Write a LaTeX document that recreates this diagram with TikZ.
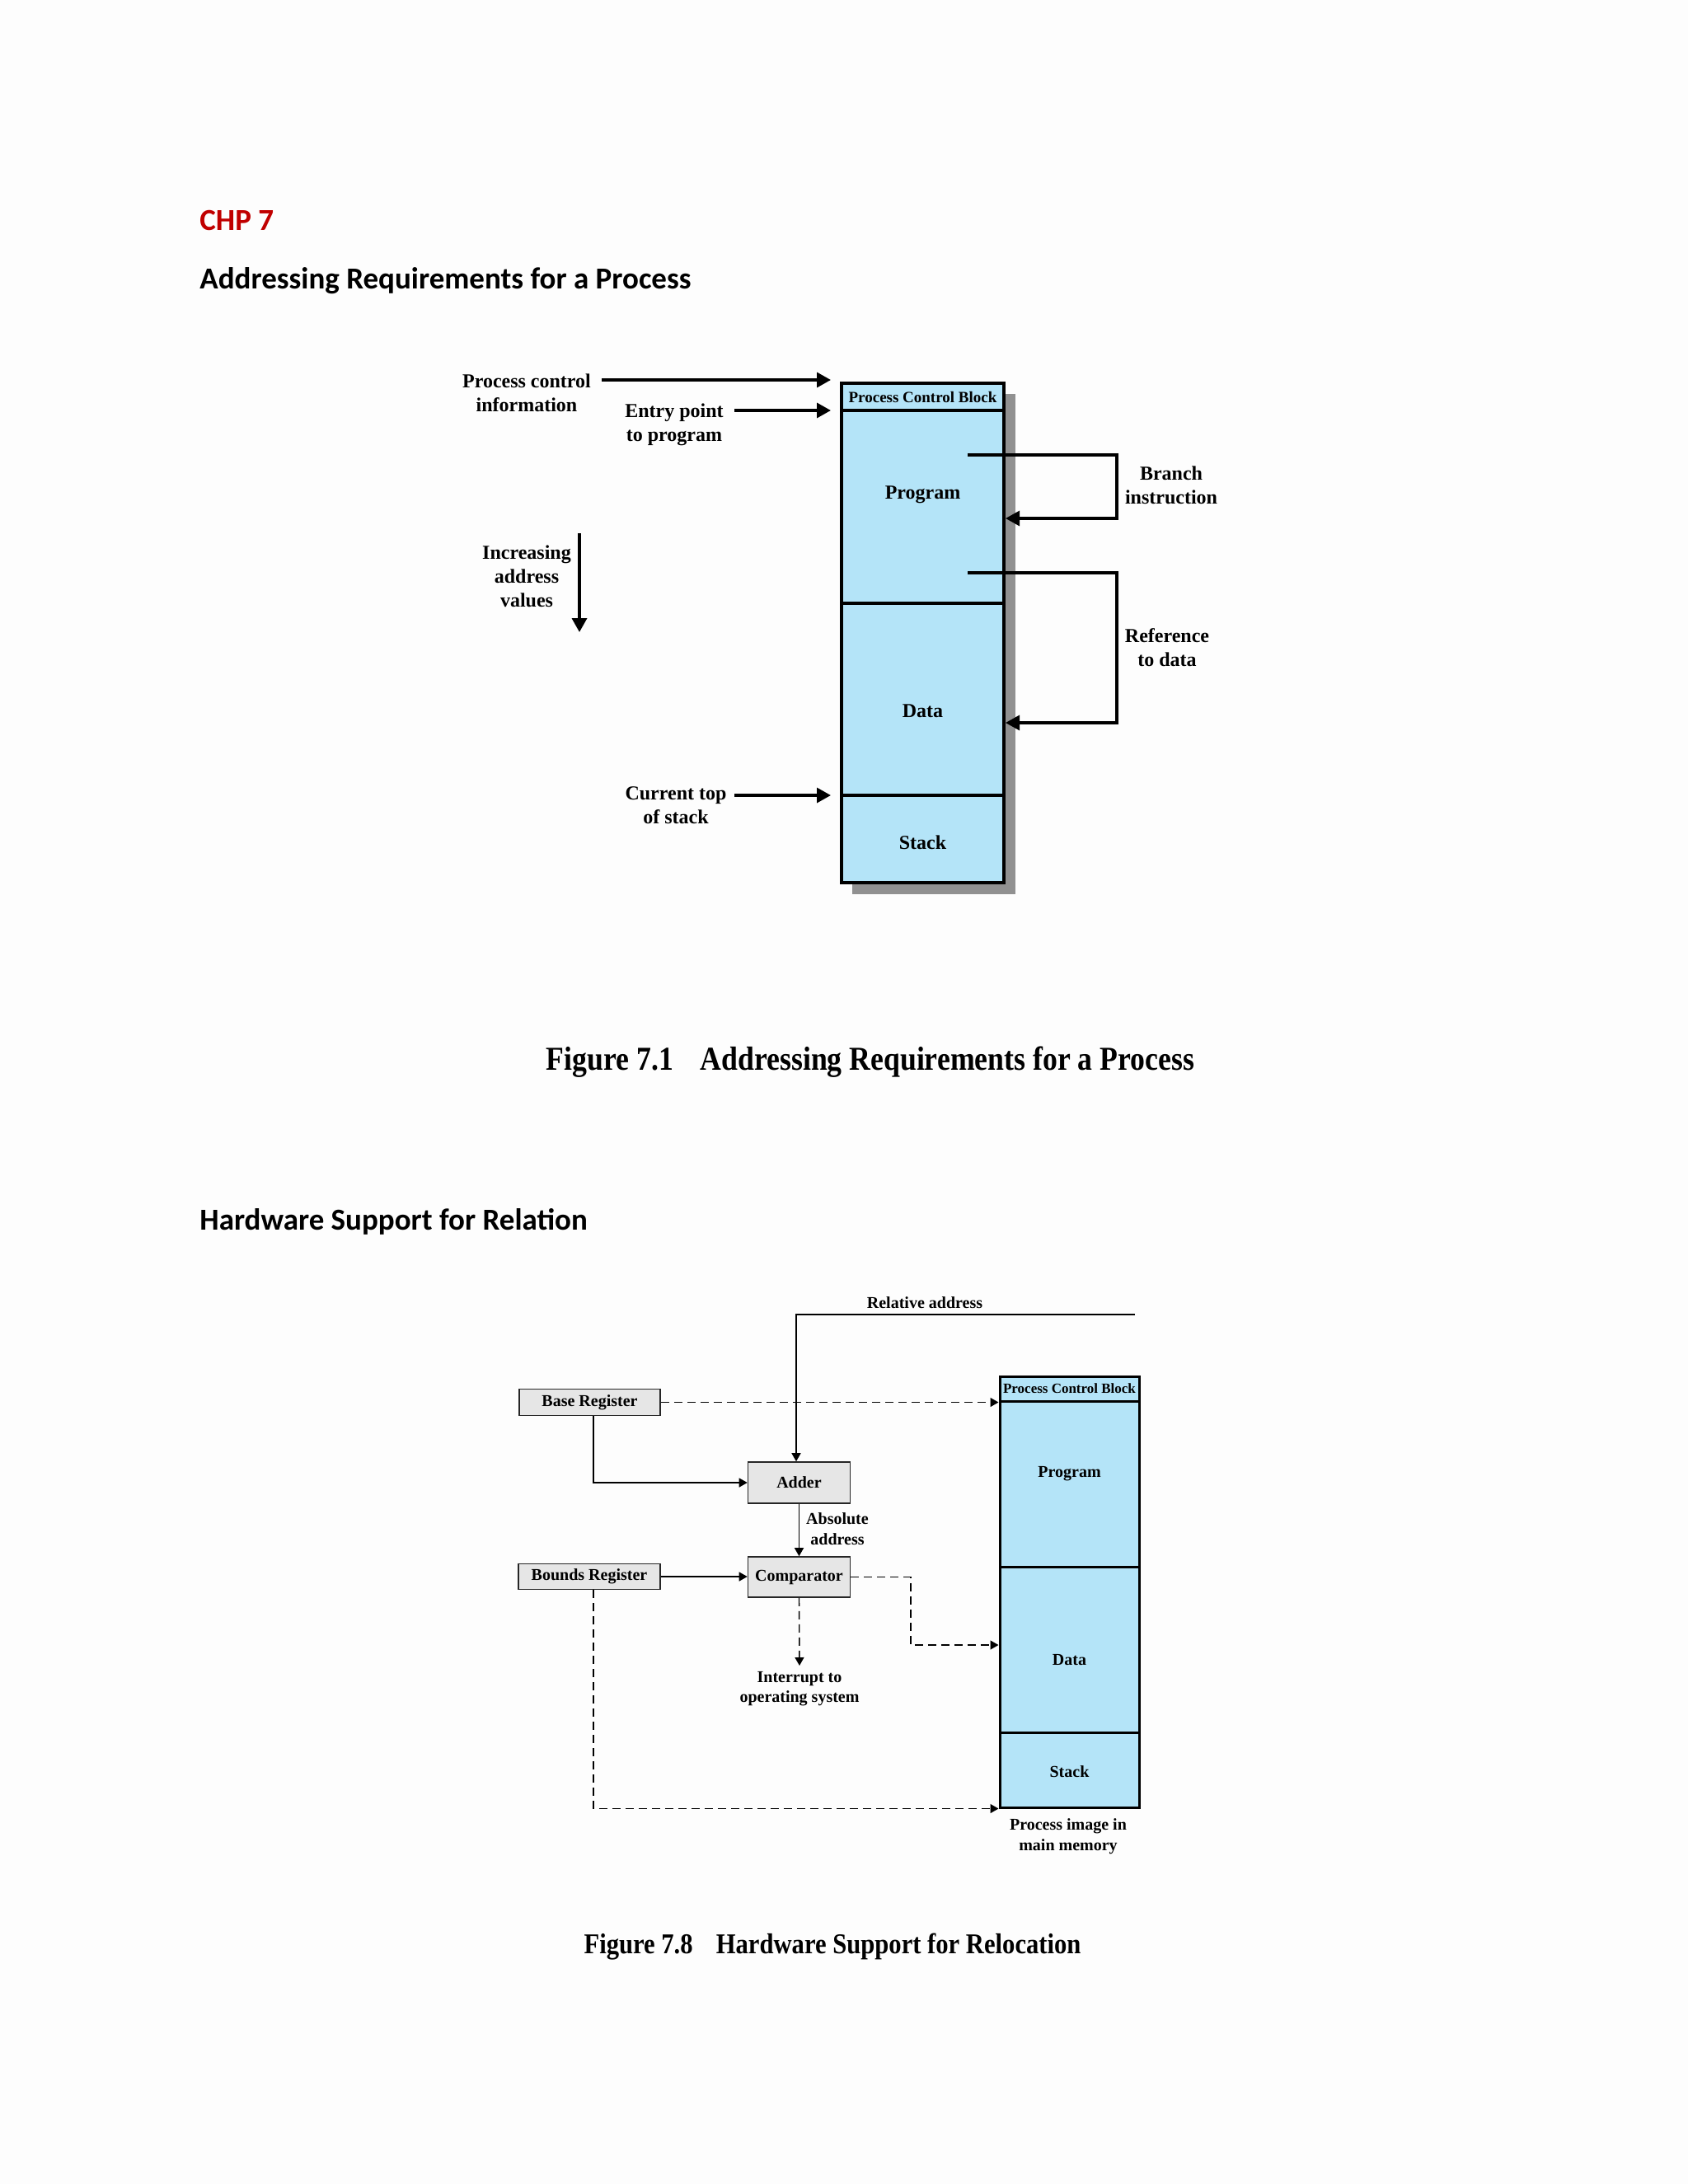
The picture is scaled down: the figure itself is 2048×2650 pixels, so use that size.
\documentclass[tikz,border=0pt]{standalone}
\usepackage{fontspec}
\setmainfont{Liberation Serif}
\newfontfamily\headfont{Carlito}
\usetikzlibrary{arrows.meta}
\definecolor{memblue}{RGB}{180,228,248}
\definecolor{regfill}{RGB}{230,230,230}
\definecolor{chpred}{RGB}{192,0,0}
\definecolor{shadowgray}{RGB}{145,145,145}
\definecolor{pagebg}{RGB}{253,253,253}
\begin{document}
\begin{tikzpicture}[x=0.5pt,y=-0.5pt,
  heading/.style={anchor=west,inner sep=0pt,font=\headfont\bfseries\fontsize{18.5}{21}\selectfont},
  toptext/.style={align=center,inner sep=1pt,font=\bfseries\fontsize{12}{14.5}\selectfont},
  bottext/.style={align=center,inner sep=1pt,font=\bfseries\fontsize{10}{12.2}\selectfont},
  memA/.style={draw,line width=2pt,fill=memblue,minimum width=98.5pt,inner sep=0pt},
  memB/.style={draw,line width=1.5pt,fill=memblue,minimum width=84.5pt,inner sep=0pt},
  regbox/.style={draw=black!85,line width=0.8pt,fill=regfill,inner sep=0pt,font=\bfseries\fontsize{10}{12}\selectfont},
  toptip/.style={-{Triangle[length=8.5pt,width=9pt]}},
  toparrow/.style={line width=1.7pt,toptip},
  topline/.style={line width=1.6pt},
  barrow/.style={line width=0.7pt,-{Triangle[length=5pt,width=5.5pt]}},
  bdash/.style={line width=0.7pt,dash pattern=on 5pt off 3pt,-{Triangle[length=5pt,width=5.5pt]}},
  caption/.style={inner sep=0pt,xscale=0.88,font=\bfseries}
]
\useasboundingbox[fill=pagebg] (0,0) rectangle (2048,2650);

% ---------- headings ----------
\node[heading,text=chpred] (chp) at (242,267) {CHP 7};
\node[heading] (h1) at (242,341) {Addressing Requirements for a Process};
\node[heading] (h2) at (242,1482) {Hardware Support for Relation};

% ---------- Figure 7.1 ----------
\fill[shadowgray] (1034,478) rectangle (1232,1085);
\node[memA,minimum height=16.5pt,font=\bfseries\fontsize{9.5}{11}\selectfont] (pcb1) at (1119.5,481.5) {Process Control Block};
\node[memA,minimum height=117pt] (prog1) at (1119.5,615) {};
\node[memA,minimum height=116.5pt] (data1) at (1119.5,848.5) {};
\node[memA,minimum height=53pt] (stack1) at (1119.5,1018) {};
\node[toptext] (progl1) at (1119.5,600) {Program};
\node[toptext] (datal1) at (1119.5,863) {Data};
\node[toptext] (stackl1) at (1119.5,1022) {Stack};

\node[toptext] (pci) at (639,476.5) {Process control\\information};
\node[toptext] (epl) at (818,515.5) {Entry point\\to program};
\node[toptext] (iav) at (639,699) {Increasing\\address\\values};
\node[toptext] (cts) at (820,977) {Current top\\of stack};
\node[toptext] (bil) at (1421,588.5) {Branch\\instruction};
\node[toptext] (rdl) at (1416,786) {Reference\\to data};

\coordinate (a1s) at (730,461);
\coordinate (a2s) at (891,498);
\coordinate (a3s) at (891,965);
\draw[toparrow,shorten >=5.5pt] (a1s) -- (a1s -| pcb1.west);
\draw[toparrow,shorten >=5.5pt] (a2s) -- (a2s -| prog1.west);
\draw[toparrow,shorten >=5.5pt] (a3s) -- (a3s -| stack1.west);

\coordinate (ias) at (703,647);
\coordinate (iae) at (703,767);
\draw[toparrow] (ias) -- (iae);

\coordinate (b1s) at (1174,552);
\coordinate (b1c) at (1355,629);
\draw[topline,toptip] (b1s) -| (b1c) -- (b1c -| prog1.east);
\coordinate (b2s) at (1174,695);
\coordinate (b2c) at (1355,877);
\draw[topline,toptip] (b2s) -| (b2c) -- (b2c -| data1.east);

\node[caption] (cap1) at (1056,1289) {\fontsize{20.3}{24}\selectfont Figure 7.1\hspace{18.5pt}Addressing Requirements for a Process};

% ---------- Figure 7.8 ----------
\node[memB,minimum height=15pt,font=\bfseries\fontsize{8.5}{10}\selectfont] (pcb2) at (1297.5,1685) {Process Control Block};
\node[memB,minimum height=100.5pt] (prog2) at (1297.5,1800.5) {};
\node[memB,minimum height=100.5pt] (data2) at (1297.5,2001.5) {};
\node[memB,minimum height=45.5pt] (stack2) at (1297.5,2147.5) {};
\node[bottext] (progl2) at (1297.5,1788) {Program};
\node[bottext] (datal2) at (1297.5,2014) {Data};
\node[bottext] (stackl2) at (1297.5,2150) {Stack};
\node[bottext] (pim) at (1296,2228) {Process image in\\main memory};

\node[regbox,minimum width=85.5pt,minimum height=16pt] (base) at (715.5,1701.5) {Base Register};
\node[regbox,minimum width=86pt,minimum height=15.5pt] (bounds) at (715,1913) {Bounds Register};
\node[regbox,minimum width=62pt,minimum height=25pt] (adder) at (969.5,1799) {Adder};
\node[regbox,minimum width=62pt,minimum height=24.5pt] (comp) at (969.5,1913.5) {Comparator};

\node[bottext] (rell) at (1122,1581) {Relative address};
\node[bottext] (absl) at (1016,1855) {Absolute\\address};
\node[bottext] (intl) at (970,2049) {Interrupt to\\operating system};

\coordinate (rels) at (1377,1595);
\draw[barrow] (rels) -| ([xshift=-1.75pt]adder.north);
\draw[barrow] ([xshift=2.25pt]base.south) |- (adder.west);
\draw[bdash] (base.east) -- (base.east -| prog2.west);
\draw[barrow] (adder.south) -- (comp.north);
\draw[barrow] (bounds.east) -- (bounds.east -| comp.west);
\coordinate (cjx) at (1105,1996);
\draw[bdash] (comp.east) -| (cjx) -- (cjx -| data2.west);
\coordinate (intp) at (970,2021);
\draw[bdash] (comp.south) -- (intp);
\draw[bdash] ([xshift=2.5pt]bounds.south) |- (stack2.south west);

\node[caption] (cap2) at (1010,2362) {\fontsize{17.4}{21}\selectfont Figure 7.8\hspace{16pt}Hardware Support for Relocation};
\end{tikzpicture}
\end{document}
